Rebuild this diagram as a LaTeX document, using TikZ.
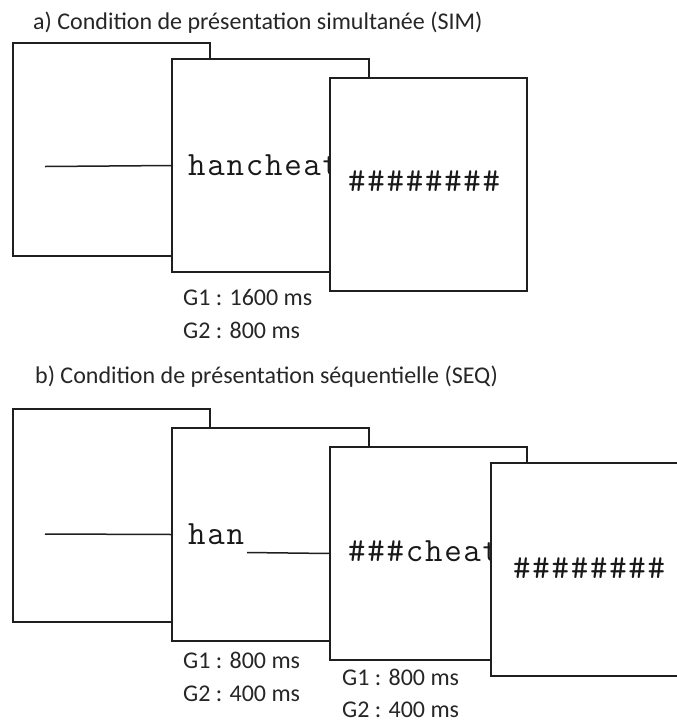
\documentclass[tikz,border=0pt]{standalone}
\usepackage{fontspec}
\setmainfont{Carlito}
\newfontfamily\stimfont[LetterSpace=5]{Latin Modern Mono}
\begin{document}
\begin{tikzpicture}[x=1pt,y=-1pt,
  scr/.style={draw=black!88, line width=1.5pt, fill=white, minimum width=197pt, minimum height=213pt, inner sep=0pt, outer sep=0pt, anchor=north west},
  fixline/.style={draw=black!88, line width=1.5pt},
  ttl/.style={font=\fontsize{24}{28}\selectfont, anchor=base west, inner sep=0pt, text=black!85},
  lbl/.style={font=\fontsize{24}{28}\selectfont, anchor=base west, inner sep=0pt, text=black!85},
  word/.style={font=\stimfont\fontsize{34}{38}\selectfont, anchor=base west, inner sep=0pt, text=black!90}]
\useasboundingbox (0,0) rectangle (677,724);
\clip (0,0) rectangle (677,724);
% ---------- a) SIM ----------
\node[ttl] (ta) at (33,29) {a) Condition de présentation simultanée (SIM)};
\node[scr] (a1) at (13,43) {};
\coordinate (fa) at (45,166.5);
\node[scr] (a2) at (172,59) {};
\draw[fixline] (fa) -- (a2.west);
\node[word] (wa) at (188,175) {hancheat};
\node[scr] (a3) at (330,78) {};
\node[word] (ma) at (348,191) {\#\#\#\#\#\#\#\#};
\node[lbl] (la1) at (183,305) {G1 : 1600 ms};
\node[lbl] (la2) at (183,338) {G2 : 800 ms};
% ---------- b) SEQ ----------
\node[ttl] (tb) at (35,383) {b) Condition de présentation séquentielle (SEQ)};
\node[scr] (b1) at (13,409) {};
\coordinate (fb) at (45,534);
\node[scr] (b2) at (172,428) {};
\draw[fixline] (fb) -- (b2.west);
\node[word] (wb1) at (188,544) {han};
\node[scr] (b3) at (330,447) {};
\coordinate (hb) at (247,552.5);
\draw[fixline] (hb) -- (b3.west);
\node[word] (wb2) at (348,561) {\#\#\#cheat};
\node[scr] (b4) at (491,463) {};
\node[word] (mb) at (513,578) {\#\#\#\#\#\#\#\#};
\node[lbl] (lb1) at (183,668) {G1 : 800 ms};
\node[lbl] (lb2) at (183,701) {G2 : 400 ms};
\node[lbl] (lc1) at (342,685) {G1 : 800 ms};
\node[lbl] (lc2) at (342,717) {G2 : 400 ms};
\end{tikzpicture}
\end{document}
